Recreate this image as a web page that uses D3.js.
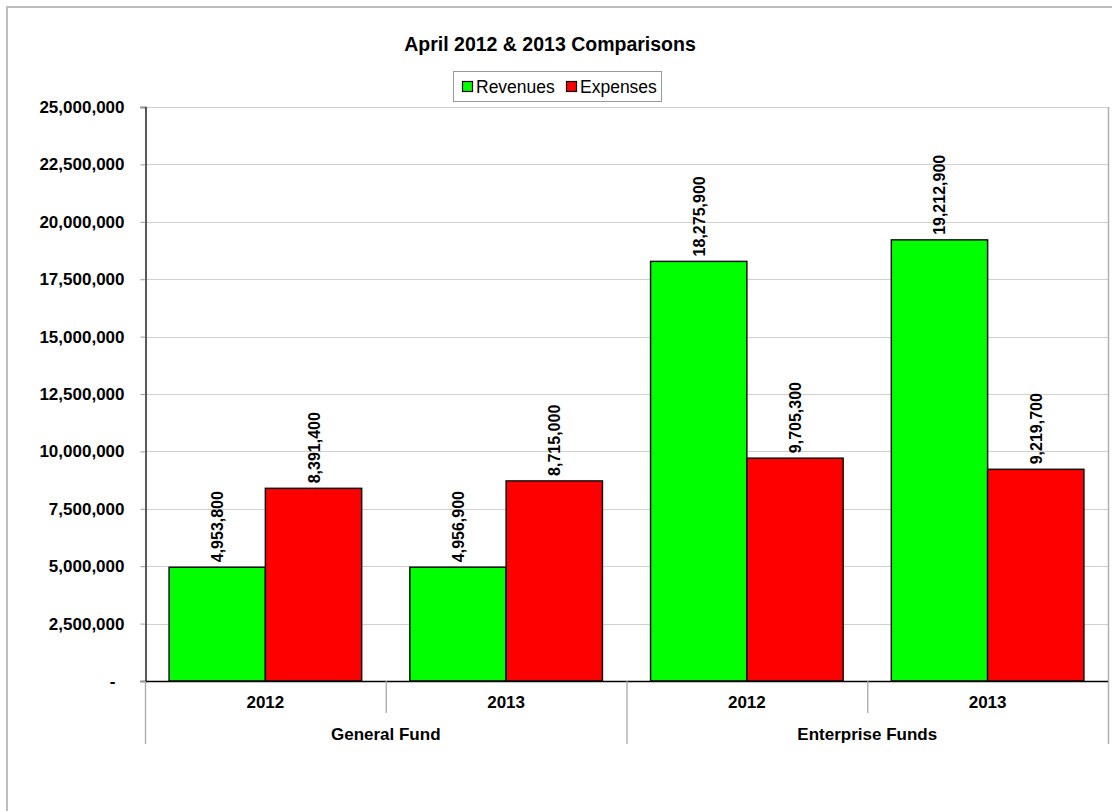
<!DOCTYPE html>
<html>
<head>
<meta charset="utf-8">
<script src="https://cdn.jsdelivr.net/npm/d3@7"></script>
<style>
  html, body { margin: 0; padding: 0; background: #fff; }
  svg { display: block; font-family: "Liberation Sans", Arial, sans-serif; }
</style>
</head>
<body>
<svg id="chart" width="1112" height="811"></svg>
<script>
// ---- data ----
const title = "April 2012 & 2013 Comparisons";
const groups = ["General Fund", "Enterprise Funds"];
const years = ["2012", "2013"];
const seriesNames = ["Revenues", "Expenses"];
const seriesColors = ["#00FF00", "#FF0000"];
const revenues = [4953800, 4956900, 18275900, 19212900];
const expenses = [8391400, 8715000, 9705300, 9219700];
const yTicks = [0, 2500000, 5000000, 7500000, 10000000, 12500000, 15000000, 17500000, 20000000, 22500000, 25000000];

// build categories (group x year)
const categories = [];
groups.forEach(g => years.forEach(y => categories.push({ group: g, year: y, key: g + "|" + y })));
const values = categories.map((c, i) => ({ cat: c, vals: [revenues[i], expenses[i]] }));

// ---- layout ----
const svg = d3.select("#chart");
const plotLeft = 145, plotRight = 1108, plotTop = 107, plotBottom = 681;

// outer chart border
svg.append("rect")
  .attr("x", 7).attr("y", 7).attr("width", 1200).attr("height", 1000)
  .attr("fill", "none").attr("stroke", "#bdbdbd").attr("stroke-width", 2);

const x = d3.scaleBand().domain(categories.map(c => c.key)).range([plotLeft, plotRight]).padding(0);
const xs = d3.scaleBand().domain(seriesNames).range([0, x.bandwidth()]).paddingInner(0).paddingOuter(0.25);
const y = d3.scaleLinear().domain([0, 25000000]).range([plotBottom, plotTop]);

// gridlines
svg.append("g").selectAll("line").data(yTicks.filter(t => t > 0)).join("line")
  .attr("x1", plotLeft).attr("x2", plotRight)
  .attr("y1", d => Math.round(y(d)) + 0.5).attr("y2", d => Math.round(y(d)) + 0.5)
  .attr("stroke", "#d0d0d0").attr("stroke-width", 1.2);

// right plot border
svg.append("line").attr("x1", plotRight + 0.5).attr("x2", plotRight + 0.5).attr("y1", plotTop).attr("y2", 744)
  .attr("stroke", "#b0b0b0").attr("stroke-width", 1.5);

// y axis
const yAxis = d3.axisLeft(y).tickValues(yTicks).tickSize(5).tickPadding(16)
  .tickFormat(d => d === 0 ? "-" : d3.format(",")(d));
const gy = svg.append("g").attr("transform", `translate(${plotLeft + 0.5},0)`).call(yAxis);
gy.attr("font-family", null).attr("font-size", null);
gy.select(".domain").attr("stroke", "#000").attr("stroke-width", 1.3);
gy.selectAll(".tick line").attr("stroke", "#999");
gy.selectAll(".tick text").attr("font-size", 17).attr("font-weight", "bold").attr("fill", "#000");
gy.selectAll(".tick").filter(d => d === 0).select("text").attr("dx", -9);

// bars
const gBars = svg.append("g");
values.forEach(v => {
  const gx = x(v.cat.key);
  gBars.selectAll(null).data(v.vals.map((val, i) => ({ val, s: seriesNames[i], c: seriesColors[i] }))).join("rect")
    .attr("x", d => gx + xs(d.s))
    .attr("width", xs.bandwidth())
    .attr("y", d => y(d.val))
    .attr("height", d => y(0) - y(d.val))
    .attr("fill", d => d.c)
    .attr("stroke", "#111").attr("stroke-width", 1.5);
  gBars.selectAll(null).data(v.vals.map((val, i) => ({ val, s: seriesNames[i] }))).join("text")
    .attr("transform", d => `translate(${gx + xs(d.s) + xs.bandwidth() / 2 + 6},${y(d.val) - 5}) rotate(-90)`)
    .attr("text-anchor", "start")
    .attr("font-size", 16).attr("font-weight", "bold").attr("fill", "#000")
    .text(d => d3.format(",")(d.val));
});

// x axis line
svg.append("line").attr("x1", plotLeft).attr("x2", plotRight).attr("y1", plotBottom + 0.5).attr("y2", plotBottom + 0.5)
  .attr("stroke", "#000").attr("stroke-width", 1.3);

// category separators
categories.forEach((c, i) => {
  const xx = x(c.key);
  const isGroupStart = i % years.length === 0;
  svg.append("line").attr("x1", xx + 0.5).attr("x2", xx + 0.5)
    .attr("y1", plotBottom).attr("y2", isGroupStart ? 744 : 713)
    .attr("stroke", "#a8a8a8").attr("stroke-width", 1.3);
});

// year labels
svg.append("g").selectAll("text").data(categories).join("text")
  .attr("x", d => x(d.key) + x.bandwidth() / 2).attr("y", 708)
  .attr("text-anchor", "middle").attr("font-size", 17).attr("font-weight", "bold")
  .text(d => d.year);

// group labels
svg.append("g").selectAll("text").data(groups).join("text")
  .attr("x", g => {
    const ks = categories.filter(c => c.group === g).map(c => c.key);
    return (x(ks[0]) + x(ks[ks.length - 1]) + x.bandwidth()) / 2;
  })
  .attr("y", 740)
  .attr("text-anchor", "middle").attr("font-size", 17).attr("font-weight", "bold")
  .text(g => g);

// title
svg.append("text").attr("x", 550).attr("y", 51).attr("text-anchor", "middle")
  .attr("font-size", 19.5).attr("font-weight", "bold").text(title);

// legend
const lg = svg.append("g");
lg.append("rect").attr("x", 453.5).attr("y", 71.5).attr("width", 208).attr("height", 30)
  .attr("fill", "#fff").attr("stroke", "#999").attr("stroke-width", 1);
const legendItems = [{ name: seriesNames[0], c: seriesColors[0], x: 462 }, { name: seriesNames[1], c: seriesColors[1], x: 566 }];
legendItems.forEach(it => {
  lg.append("rect").attr("x", it.x + 0.5).attr("y", 81.5).attr("width", 10).attr("height", 10)
    .attr("fill", it.c).attr("stroke", "#000").attr("stroke-width", 1.2);
  lg.append("text").attr("x", it.x + 14).attr("y", 93).attr("font-size", 17.5).text(it.name);
});
</script>
</body>
</html>
